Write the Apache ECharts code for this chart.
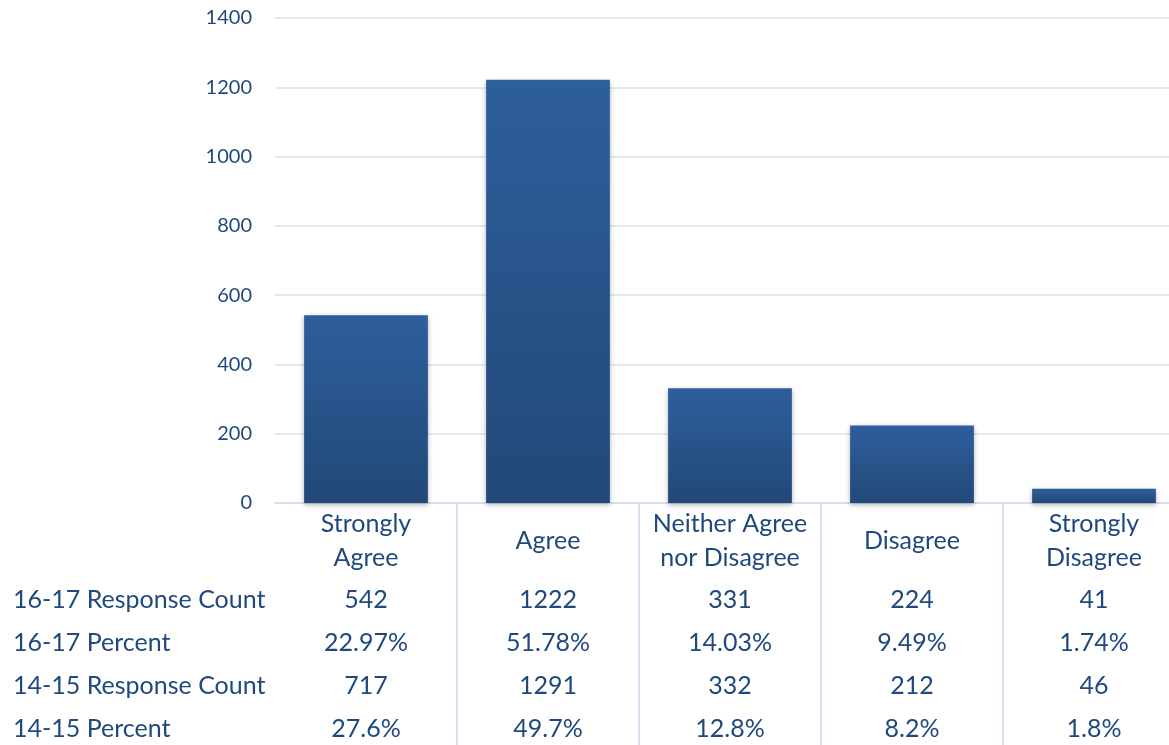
<!DOCTYPE html>
<html>
<head>
<meta charset="utf-8">
<style>
  html, body { margin: 0; padding: 0; background: #fff; }
  #chart { width: 1169px; height: 745px; }
</style>
<script src="https://cdn.jsdelivr.net/npm/echarts@6/dist/echarts.min.js"></script>
</head>
<body>
<div id="chart"></div>
<script>
// Survey responses by answer
const categories = ['Strongly\nAgree', 'Agree', 'Neither Agree\nnor Disagree', 'Disagree', 'Strongly\nDisagree'];
const count1617 = [542, 1222, 331, 224, 41];
const percent1617 = ['22.97%', '51.78%', '14.03%', '9.49%', '1.74%'];
const count1415 = [717, 1291, 332, 212, 46];
const percent1415 = ['27.6%', '49.7%', '12.8%', '8.2%', '1.8%'];
const rowLabels = ['16-17 Response Count', '16-17 Percent', '14-15 Response Count', '14-15 Percent'];
const yTicks = { min: 0, max: 1400, interval: 200 };

const FONT = 'Lato';
const TEXT = '#1F497D';
const LINE = '#D6E0F0';
const TABLE_SIZE = 25;

const chart = echarts.init(document.getElementById('chart'), null, { renderer: 'canvas' });

const tableRows = [count1617.map(String), percent1617, count1415.map(String), percent1415];
const rowMargins = [97, 140, 183, 226];

// one hidden-line axis per table row, sharing the category scale
const rowAxes = tableRows.map((row, i) => ({
  type: 'category',
  gridIndex: 0,
  position: 'bottom',
  data: row,
  axisLine: { show: false },
  axisTick: { show: false },
  splitLine: { show: false },
  axisLabel: {
    interval: 0,
    margin: rowMargins[i],
    verticalAlign: 'middle',
    color: TEXT,
    fontFamily: FONT,
    fontSize: TABLE_SIZE
  }
}));

const option = {
  animation: false,
  // the last column runs past the right edge of the canvas
  grid: { left: 275, width: 910, top: 18, bottom: 242, containLabel: false, outerBoundsMode: 'none' },
  xAxis: [{
    type: 'category',
    data: categories,
    axisLine: { show: true, lineStyle: { color: LINE, width: 2 } },
    axisTick: {
      show: true,
      length: 250,
      lineStyle: { color: LINE, width: 2 },
      interval: (idx) => idx > 0
    },
    splitLine: { show: false },
    axisLabel: {
      interval: 0,
      margin: 38,
      verticalAlign: 'middle',
      lineHeight: 34,
      color: TEXT,
      fontFamily: FONT,
      fontSize: TABLE_SIZE
    }
  }].concat(rowAxes),
  yAxis: {
    type: 'value',
    min: yTicks.min,
    max: yTicks.max,
    interval: yTicks.interval,
    axisLine: { show: false },
    axisTick: { show: false },
    splitLine: { lineStyle: { color: LINE, width: 1.5 } },
    axisLabel: {
      margin: 23,
      color: TEXT,
      fontFamily: FONT,
      fontSize: 20,
      formatter: (v) => String(v)
    }
  },
  graphic: rowLabels.map((t, i) => ({
    type: 'text',
    x: 13,
    y: 503 + rowMargins[i],
    style: { text: t, fill: TEXT, font: TABLE_SIZE + 'px ' + FONT, verticalAlign: 'middle' }
  })),
  series: [{
    type: 'bar',
    xAxisIndex: 0,
    data: count1617,
    barWidth: '68%',
    itemStyle: {
      color: new echarts.graphic.LinearGradient(0, 0, 0, 1, [
        { offset: 0, color: '#2D5F9C' },
        { offset: 1, color: '#224878' }
      ]),
      shadowBlur: 5,
      shadowColor: 'rgba(0,0,0,0.3)',
      shadowOffsetY: 2
    }
  }]
};

chart.setOption(option);
</script>
</body>
</html>
